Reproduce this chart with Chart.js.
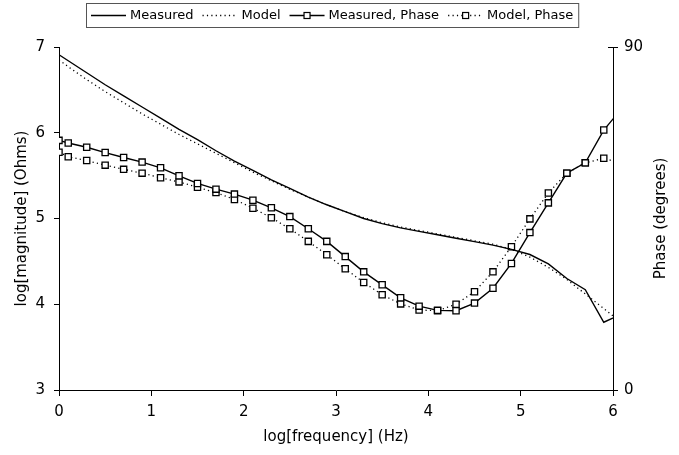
<!DOCTYPE html>
<html>
<head>
<meta charset="utf-8">
<script src="https://cdn.jsdelivr.net/npm/chart.js@4.4.1/dist/chart.umd.min.js"></script>
<style>
  html, body { margin: 0; padding: 0; background: #fff; }
  #wrap { width: 679px; height: 455px; }
</style>
</head>
<body>
<div id="wrap"><canvas id="c" width="679" height="455"></canvas></div>
<script>
// log10 of measurement frequency (Hz)
const logFreq = [0, 0.1, 0.3, 0.5, 0.7, 0.9, 1.1, 1.3, 1.5, 1.7, 1.9, 2.1, 2.3, 2.5, 2.7, 2.9,
                 3.1, 3.3, 3.5, 3.7, 3.9, 4.1, 4.3, 4.5, 4.7, 4.9, 5.1, 5.3, 5.5, 5.7, 5.9, 6.1];

// log10 |Z| (Ohms)
const measuredMag = [6.91, 6.84, 6.70, 6.56, 6.43, 6.30, 6.17, 6.04, 5.92, 5.79, 5.67, 5.56, 5.45, 5.35, 5.25, 5.16,
                     5.08, 5.00, 4.94, 4.89, 4.85, 4.81, 4.77, 4.73, 4.69, 4.64, 4.58, 4.47, 4.30, 4.17, 3.79, 3.89];
const modelMag    = [6.85, 6.77, 6.62, 6.48, 6.35, 6.22, 6.10, 5.98, 5.87, 5.76, 5.65, 5.54, 5.44, 5.34, 5.25, 5.16,
                     5.08, 5.01, 4.95, 4.90, 4.86, 4.82, 4.78, 4.74, 4.70, 4.64, 4.55, 4.43, 4.29, 4.12, 3.95, 3.78];

// phase angle (degrees)
const measuredPhase = [65.5, 64.8, 63.7, 62.3, 61.0, 59.8, 58.3, 56.2, 54.2, 52.7, 51.4, 49.8, 47.8, 45.5, 42.3, 39.0,
                       35.0, 31.0, 27.6, 24.2, 22.0, 20.9, 20.8, 22.8, 26.7, 33.2, 41.3, 49.1, 56.9, 59.6, 68.2, 74.0];
const modelPhase    = [62.4, 61.2, 60.2, 59.0, 57.9, 56.9, 55.7, 54.6, 53.2, 51.8, 50.0, 47.7, 45.2, 42.3, 39.0, 35.5,
                       31.8, 28.2, 25.0, 22.6, 21.0, 20.8, 22.5, 25.8, 31.0, 37.6, 44.9, 51.7, 56.9, 59.6, 60.8, 59.4];

// axis ticks
const xTicks = [0, 1, 2, 3, 4, 5, 6];
const magTicks = [3, 4, 5, 6, 7];
const phaseTicks = [0, 90];

const FONT = "'DejaVu Sans', Verdana, sans-serif";
const INK = '#000';
const DOTS = [1.2, 3.2];

const pts = ys => logFreq.map((x, i) => ({ x, y: ys[i] }));

function series(label, ys, axis, dotted, marker) {
  return {
    label,
    data: pts(ys),
    yAxisID: axis,
    borderColor: INK,
    backgroundColor: '#fff',
    borderWidth: dotted ? 1.3 : 1.4,
    borderDash: dotted ? DOTS : [],
    tension: 0,
    pointStyle: 'rect',
    pointRadius: marker ? 4.4 : 0,
    pointBorderWidth: 1.3,
    pointBorderColor: INK,
    pointBackgroundColor: '#fff',
    pointHoverRadius: 0,
    fill: false
  };
}

// Boxed legend with line-style samples across the top
const boxedLegend = {
  id: 'boxedLegend',
  afterDraw(chart) {
    const ctx = chart.ctx;
    const sets = chart.data.datasets;
    ctx.save();
    ctx.font = '13px ' + FONT;
    ctx.textBaseline = 'middle';
    const sample = 35, gap = 4, spacing = 9, pad = 5;
    let total = pad * 2 - spacing;
    sets.forEach(ds => { total += sample + gap + ctx.measureText(ds.label).width + spacing; });
    const right = 578, top = 3, h = 24, cy = top + h / 2;
    const left = Math.round(right - total);
    ctx.fillStyle = '#fff';
    ctx.fillRect(left, top, total, h);
    ctx.strokeStyle = '#555';
    ctx.lineWidth = 1;
    ctx.strokeRect(left + 0.5, top + 0.5, total, h);
    let x = left + pad;
    sets.forEach(ds => {
      ctx.strokeStyle = INK;
      ctx.lineWidth = ds.borderWidth;
      ctx.setLineDash(ds.borderDash);
      ctx.beginPath();
      ctx.moveTo(x, cy + 0.5);
      ctx.lineTo(x + sample, cy + 0.5);
      ctx.stroke();
      ctx.setLineDash([]);
      if (ds.pointRadius > 0) {
        const s = 6;
        ctx.fillStyle = '#fff';
        ctx.fillRect(x + sample / 2 - s / 2, cy - s / 2 + 0.5, s, s);
        ctx.lineWidth = 1.2;
        ctx.strokeRect(x + sample / 2 - s / 2, cy - s / 2 + 0.5, s, s);
      }
      x += sample + gap;
      ctx.fillStyle = INK;
      ctx.textAlign = 'left';
      ctx.fillText(ds.label, x, cy + 1);
      x += ctx.measureText(ds.label).width + spacing;
    });
    ctx.restore();
  }
};

// Title of the phase axis (reading bottom to top) and its inward tick marks
const phaseAxisExtras = {
  id: 'phaseAxisExtras',
  afterDraw(chart) {
    const { ctx, chartArea } = chart;
    const s = chart.scales.y1;
    ctx.save();
    ctx.strokeStyle = INK;
    ctx.lineWidth = 1;
    s.ticks.forEach(t => {
      const y = Math.round(s.getPixelForValue(t.value)) + 0.5;
      ctx.beginPath();
      ctx.moveTo(chartArea.right - 5, y);
      ctx.lineTo(chartArea.right, y);
      ctx.stroke();
    });
    ctx.font = '15px ' + FONT;
    ctx.fillStyle = INK;
    ctx.textAlign = 'center';
    ctx.textBaseline = 'middle';
    ctx.translate(661, (chartArea.top + chartArea.bottom) / 2);
    ctx.rotate(-Math.PI / 2);
    ctx.fillText('Phase (degrees)', 0, 0);
    ctx.restore();
  }
};

const tickFont = { family: FONT, size: 15 };
const titleFont = { family: FONT, size: 15 };

new Chart(document.getElementById('c'), {
  type: 'line',
  data: {
    datasets: [
      series('Measured', measuredMag, 'y', false, false),
      series('Model', modelMag, 'y', true, false),
      series('Measured, Phase', measuredPhase, 'y1', false, true),
      series('Model, Phase', modelPhase, 'y1', true, true)
    ]
  },
  options: {
    responsive: false,
    animation: false,
    events: [],
    layout: { padding: { top: 47 } },
    plugins: { legend: { display: false }, tooltip: { enabled: false } },
    scales: {
      x: {
        type: 'linear',
        min: 0, max: 6,
        afterBuildTicks: s => { s.ticks = xTicks.map(v => ({ value: v })); },
        ticks: { color: INK, font: tickFont, padding: 7, maxRotation: 0 },
        grid: { drawOnChartArea: false, drawTicks: true, tickLength: 6, color: INK, lineWidth: 1 },
        border: { color: INK, width: 1 },
        title: { display: true, text: 'log[frequency] (Hz)', color: INK, font: titleFont, padding: { top: 0, bottom: 9 } },
        afterFit: s => { s.height = 65; }
      },
      y: {
        position: 'left',
        min: 3, max: 7,
        afterBuildTicks: s => { s.ticks = magTicks.map(v => ({ value: v })); },
        ticks: { color: INK, font: tickFont, padding: 9 },
        grid: { drawOnChartArea: false, drawTicks: true, tickLength: 5, color: INK, lineWidth: 1 },
        border: { color: INK, width: 1 },
        title: { display: true, text: 'log[magnitude] (Ohms)', color: INK, font: titleFont, padding: { top: 13, bottom: 0 } },
        afterFit: s => { s.width = 59; }
      },
      y1: {
        position: 'right',
        min: 0, max: 90,
        afterBuildTicks: s => { s.ticks = phaseTicks.map(v => ({ value: v })); },
        ticks: { color: INK, font: tickFont, padding: 6 },
        grid: { drawOnChartArea: false, drawTicks: true, tickLength: 5, color: INK, lineWidth: 1 },
        border: { color: INK, width: 1 },
        afterFit: s => { s.width = 66; }
      }
    }
  },
  plugins: [boxedLegend, phaseAxisExtras]
});
</script>
</body>
</html>
